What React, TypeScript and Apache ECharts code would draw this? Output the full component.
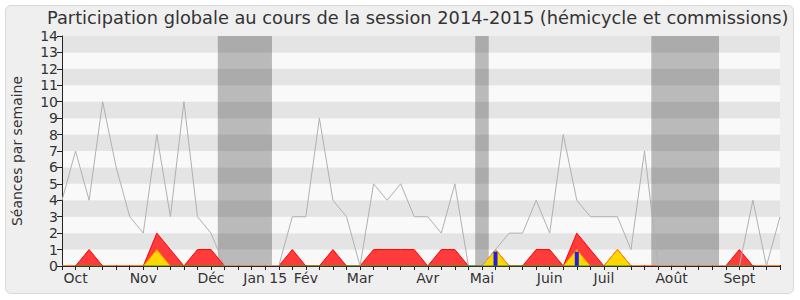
import React, { useEffect, useRef } from "react";
import * as echarts from "echarts";

// Weekly values (54 weeks, Oct 2014 -> Sept 2015)
const totalSeances = [4, 7, 4, 10, 6, 3, 2, 8, 3, 10, 3, 2, 0, 0, 0, 0, 0, 3, 3, 9, 4, 3, 0, 5, 4, 5, 3, 3, 2, 5, 0, 0, 1, 2, 2, 4, 2, 8, 4, 3, 3, 3, 1, 7, 0, 0, 0, 0, 0, 0, 0, 4, 0, 3];
const redValues = [0, 0, 1, 0, 0, 0, 0, 2, 1, 0, 1, 1, 0, 0, 0, 0, 0, 1, 0, 0, 1, 0, 0, 1, 1, 1, 1, 0, 1, 1, 0, 0, 1, 0, 0, 1, 1, 0, 2, 1, 0, 1, 0, 0, 0, 0, 0, 0, 0, 0, 1, 0, 0, 0];
const yellowValues = [0, 0, 0, 0, 0, 0, 0, 1, 0, 0, 0, 0, 0, 0, 0, 0, 0, 0, 0, 0, 0, 0, 0, 0, 0, 0, 0, 0, 0, 0, 0, 0, 1, 0, 0, 0, 0, 0, 1, 0, 0, 1, 0, 0, 0, 0, 0, 0, 0, 0, 0, 0, 0, 0];
const greenValues: (number | null)[] = [null, 0, 0, 0, null, null, 0, 0, 0, 0, 0, 0, 0, null, null, null, 0, 0, 0, 0, 0, 0, 0, 0, 0, 0, 0, 0, 0, 0, 0, 0, 0, 0, 0, 0, 0, 0, 0, 0, 0, 0, 0, null, null, null, null, null, null, 0, 0, 0, null, null];
const blueWeeks = [32, 38];
const blueValues = [0.87, 0.87];

const monthWeeks = [1, 6, 11, 15, 18, 22, 27, 31, 36, 40, 45, 50];
const monthLabels = ["Oct", "Nov", "Déc", "Jan 15", "Fév", "Mar", "Avr", "Mai", "Juin", "Juil", "Août", "Sept"];

const vacationStart = [11.5, 30.5, 43.5];
const vacationEnd = [15.5, 31.5, 48.5];

const FONT = "DejaVu Sans";

export default function App() {
  const ref = useRef<HTMLDivElement>(null);

  useEffect(() => {
    if (!ref.current) return;
    const chart = echarts.init(ref.current, null, { renderer: "svg" });
    const pairs = (arr: (number | null)[]) => arr.map((v, i) => [i, v]);
    const labelMap: Record<number, string> = {};
    monthWeeks.forEach((w, k) => (labelMap[w] = monthLabels[k]));

    chart.setOption({
      animation: false,
      backgroundColor: "transparent",
      textStyle: { fontFamily: FONT },
      title: {
        text: "Participation globale au cours de la session 2014-2015 (hémicycle et commissions)",
        left: 47,
        top: 8,
        padding: 0,
        textStyle: { fontFamily: FONT, fontSize: 17.8, fontWeight: "normal", color: "#333" },
      },
      grid: { left: 62, right: 20, top: 36, bottom: 34, containLabel: false },
      xAxis: [
        {
          type: "value",
          min: 0,
          max: 53,
          interval: 1,
          z: 8,
          axisLine: { show: true, onZero: false, lineStyle: { color: "#3a2020", width: 1 } },
          axisTick: { show: true, length: 4, lineStyle: { color: "#222" } },
          splitLine: { show: false },
          axisLabel: {
            formatter: (v: number) => labelMap[v] ?? "",
            fontFamily: FONT,
            fontSize: 14,
            color: "#333",
            margin: 5,
            hideOverlap: false,
          },
        },
        {
          type: "value",
          position: "top",
          min: 0,
          max: 53,
          interval: 1,
          axisLine: { show: false },
          axisTick: { show: true, length: 1, inside: false, lineStyle: { color: "#222" } },
          axisLabel: { show: false },
          splitLine: { show: false },
        },
      ],
      yAxis: {
        type: "value",
        min: 0,
        max: 14,
        interval: 1,
        name: "Séances par semaine",
        nameLocation: "middle",
        nameGap: 38,
        nameTextStyle: { fontFamily: FONT, fontSize: 14, color: "#333" },
        axisLine: { show: true, lineStyle: { color: "#222" } },
        axisTick: { show: true, length: 5, lineStyle: { color: "#222" } },
        axisLabel: { fontFamily: FONT, fontSize: 14, color: "#333", margin: 4 },
        splitLine: { show: false },
        splitArea: { show: true, areaStyle: { color: ["#f9f9f9", "#e4e4e4"] } },
      },
      series: [
        {
          name: "vacances",
          type: "line",
          data: [],
          z: 1,
          markArea: {
            silent: true,
            itemStyle: { color: "rgba(0,0,0,0.25)" },
            data: vacationStart.map((s, k) => [{ xAxis: s }, { xAxis: vacationEnd[k] }]),
          },
        },
        {
          name: "rouge",
          type: "line",
          data: pairs(redValues),
          symbol: "none",
          z: 2,
          lineStyle: { color: "#ff0000", width: 1 },
          areaStyle: { color: "#ff3b3b", opacity: 1 },
        },
        {
          name: "jaune",
          type: "line",
          data: pairs(yellowValues),
          symbol: "none",
          z: 3,
          lineStyle: { color: "#ff8c00", width: 1 },
          areaStyle: { color: "#ffd700", opacity: 1 },
        },
        {
          name: "total",
          type: "line",
          data: pairs(totalSeances),
          symbol: "none",
          z: 4,
          lineStyle: { color: "#b0b0b0", width: 1 },
        },
        {
          name: "questions",
          type: "bar",
          data: blueWeeks.map((w, k) => [w, blueValues[k]]),
          barWidth: 4,
          z: 5,
          itemStyle: { color: "#2020dd" },
        },
        {
          name: "vert",
          type: "line",
          data: pairs(greenValues),
          symbol: "none",
          z: 9,
          connectNulls: false,
          lineStyle: { color: "#2a8a2a", width: 1 },
        },
      ],
    });
    return () => chart.dispose();
  }, []);

  return (
    <div style={{ position: "fixed", left: 0, top: 0, width: 800, height: 300, background: "#ffffff" }}>
      <div
        style={{
          position: "absolute",
          left: 5,
          top: 5,
          width: 787,
          height: 287,
          background: "#efefef",
          border: "1px solid #d9d9d9",
          borderRadius: 6,
        }}
      />
      <div ref={ref} style={{ position: "absolute", left: 0, top: 0, width: 800, height: 300 }} />
    </div>
  );
}
